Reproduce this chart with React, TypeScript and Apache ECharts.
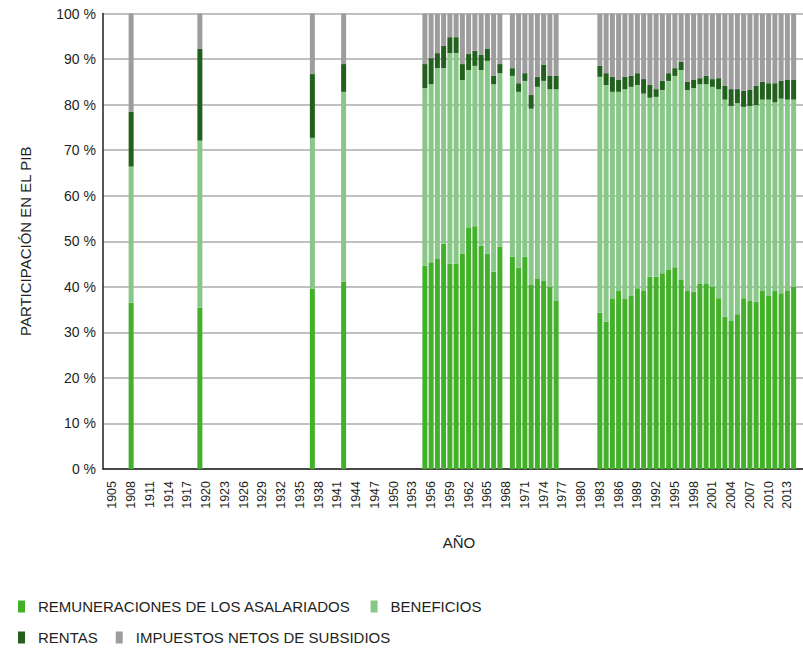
import React, { useEffect, useRef } from "react";
import * as echarts from "echarts";

const years = [
  1908, 1919, 1937, 1942,
  1955, 1956, 1957, 1958, 1959, 1960, 1961, 1962, 1963, 1964, 1965, 1966, 1967,
  1969, 1970, 1971, 1972, 1973, 1974, 1975, 1976,
  1983, 1984, 1985, 1986, 1987, 1988, 1989, 1990, 1991, 1992, 1993, 1994, 1995, 1996,
  1997, 1998, 1999, 2000, 2001, 2002, 2003, 2004, 2005, 2006, 2007, 2008, 2009, 2010,
  2011, 2012, 2013, 2014,
];

const remuneraciones = [
  36.5, 35.4, 39.6, 41.1,
  44.6, 45.4, 46.1, 49.5, 45.1, 45.1, 47.3, 52.9, 53.3, 49.0, 47.3, 43.3, 48.8,
  46.6, 44.2, 46.6, 40.4, 41.7, 41.3, 40.0, 36.9,
  34.3, 32.3, 37.3, 39.1, 37.3, 38.0, 39.7, 39.1, 42.2, 42.2, 43.0, 43.7, 44.3, 41.5,
  39.1, 38.9, 40.6, 40.6, 40.0, 37.5, 33.4, 32.5, 34.0, 37.5, 36.9, 36.7, 39.1, 38.0,
  39.1, 38.6, 39.1, 40.0,
];

const beneficios = [
  29.9, 36.7, 33.1, 41.7,
  39.0, 39.1, 41.9, 38.5, 46.2, 46.2, 38.1, 34.7, 35.2, 38.6, 42.3, 41.2, 38.1,
  39.7, 38.6, 38.6, 38.7, 42.2, 43.9, 43.4, 46.5,
  51.8, 52.0, 45.5, 43.7, 46.1, 45.9, 44.6, 43.3, 39.3, 39.5, 40.2, 41.5, 42.0, 46.1,
  44.1, 44.7, 43.9, 43.9, 43.9, 45.9, 47.7, 47.2, 46.3, 42.0, 42.8, 43.2, 42.0, 43.1,
  41.4, 42.7, 42.0, 41.1,
];

const rentas = [
  12.0, 20.1, 14.0, 6.1,
  5.3, 5.7, 3.3, 4.9, 3.5, 3.5, 3.5, 3.5, 3.3, 3.3, 2.6, 1.8, 2.0,
  1.7, 1.9, 1.7, 3.0, 2.2, 3.5, 2.9, 2.9,
  2.4, 2.6, 3.3, 2.6, 2.7, 2.4, 2.6, 3.2, 2.8, 1.7, 2.0, 1.7, 1.7, 1.8,
  1.8, 1.8, 1.3, 1.8, 1.7, 2.4, 3.0, 3.7, 3.1, 3.5, 3.5, 4.2, 3.9, 3.6,
  4.2, 3.9, 4.3, 4.3,
];

const impuestos = [
  21.6, 7.8, 13.3, 11.1,
  11.1, 9.8, 8.7, 7.1, 5.2, 5.2, 11.1, 8.9, 8.2, 9.1, 7.8, 13.7, 11.1,
  12.0, 15.3, 13.1, 17.9, 13.9, 11.3, 13.7, 13.7,
  11.5, 13.1, 13.9, 14.6, 13.9, 13.7, 13.1, 14.4, 15.7, 16.6, 14.8, 13.1, 12.0, 10.6,
  15.0, 14.6, 14.2, 13.7, 14.4, 14.2, 15.9, 16.6, 16.6, 17.0, 16.8, 15.9, 15.0, 15.3,
  15.3, 14.8, 14.6, 14.6,
];

// axis range (categories) and which year labels are printed
const firstAxisYear = 1904;
const lastAxisYear = 2015;
const xTickYears = [
  1905, 1908, 1911, 1914, 1917, 1920, 1923, 1926, 1929, 1932, 1935, 1938, 1941, 1944,
  1947, 1950, 1953, 1956, 1959, 1962, 1965, 1968, 1971, 1974, 1977, 1980, 1983, 1986,
  1989, 1992, 1995, 1998, 2001, 2004, 2007, 2010, 2013,
];

const seriesNames = [
  "REMUNERACIONES DE LOS ASALARIADOS",
  "BENEFICIOS",
  "RENTAS",
  "IMPUESTOS NETOS DE SUBSIDIOS",
];
const seriesColors = ["#43b02a", "#89c788", "#22601d", "#9d9d9d"];

const FONT = "Liberation Sans";
const TEXT = "#231f20";

export default function App() {
  const ref = useRef<HTMLDivElement>(null);
  useEffect(() => {
    if (!ref.current) return;
    const chart = echarts.init(ref.current, null, { renderer: "svg" });
    const categories: string[] = [];
    for (let y = firstAxisYear; y <= lastAxisYear; y++) categories.push(String(y));
    const values = [remuneraciones, beneficios, rentas, impuestos];
    const series = values.map((arr, i) => ({
      name: seriesNames[i],
      type: "bar",
      stack: "total",
      barWidth: 5,
      itemStyle: { color: seriesColors[i] },
      data: categories.map((c) => {
        const j = years.indexOf(Number(c));
        return j >= 0 ? arr[j] : null;
      }),
    }));
    const legendBase = {
      left: 13,
      icon: "rect",
      itemWidth: 7,
      itemHeight: 12,
      itemGap: 20,
      textStyle: { fontFamily: FONT, fontSize: 15, color: TEXT, padding: [0, 0, 0, 8] },
    };
    chart.setOption({
      animation: false,
      grid: { left: 103, right: -5.2, top: 13.5, bottom: 180, containLabel: false },
      legend: [
        { ...legendBase, top: 594, data: [seriesNames[0], seriesNames[1]] },
        { ...legendBase, top: 625, itemGap: 18, data: [seriesNames[2], seriesNames[3]] },
      ],
      xAxis: {
        type: "category",
        data: categories,
        boundaryGap: true,
        name: "AÑO",
        nameLocation: "middle",
        nameGap: 66,
        nameTextStyle: { fontFamily: FONT, fontSize: 15, color: TEXT, padding: [0, 0, 0, 12] },
        axisLine: { show: true, lineStyle: { color: TEXT, width: 1.5 } },
        axisTick: { show: false },
        splitLine: { show: false },
        axisLabel: {
          interval: (_i: number, v: string) => xTickYears.indexOf(Number(v)) >= 0,
          rotate: 90,
          margin: 12,
          fontFamily: FONT,
          fontSize: 12.5,
          color: TEXT,
        },
      },
      yAxis: {
        type: "value",
        min: 0,
        max: 100,
        interval: 10,
        name: "PARTICIPACIÓN EN EL PIB",
        nameLocation: "middle",
        nameGap: 70,
        nameTextStyle: { fontFamily: FONT, fontSize: 15, color: TEXT },
        axisLine: { show: true, lineStyle: { color: TEXT, width: 1.5 } },
        axisTick: { show: false },
        splitLine: { show: true, lineStyle: { color: "#ababab", width: 1.5 } },
        axisLabel: {
          margin: 7,
          fontFamily: FONT,
          fontSize: 14,
          color: TEXT,
          formatter: "{value} %",
        },
      },
      series,
    });
    return () => chart.dispose();
  }, []);
  return (
    <div
      ref={ref}
      style={{ position: "absolute", left: 0, top: 0, width: 803, height: 649, background: "#fff" }}
    />
  );
}
